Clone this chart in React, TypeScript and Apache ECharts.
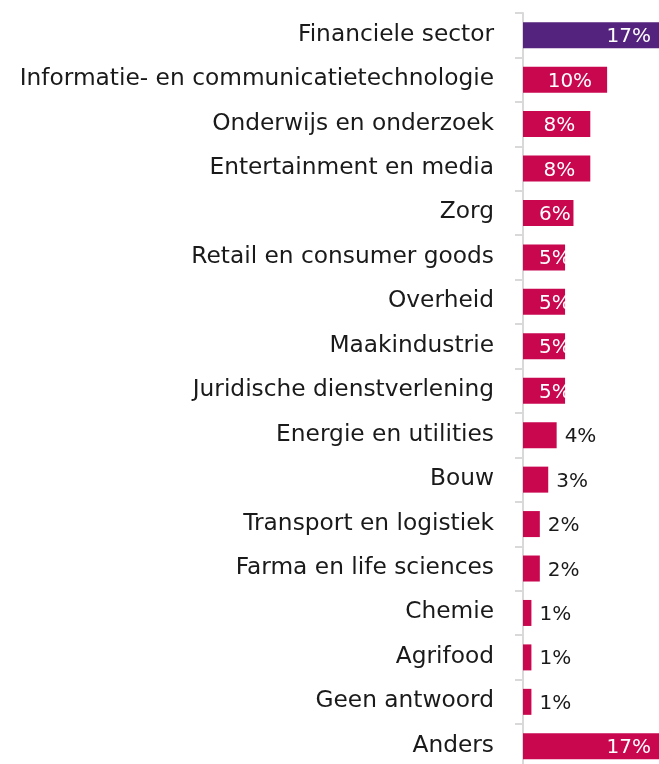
import React, { useEffect, useRef } from "react";
import * as echarts from "echarts";

const categories = [
  "Financiele sector",
  "Informatie- en communicatietechnologie",
  "Onderwijs en onderzoek",
  "Entertainment en media",
  "Zorg",
  "Retail en consumer goods",
  "Overheid",
  "Maakindustrie",
  "Juridische dienstverlening",
  "Energie en utilities",
  "Bouw",
  "Transport en logistiek",
  "Farma en life sciences",
  "Chemie",
  "Agrifood",
  "Geen antwoord",
  "Anders",
];

const values = [17, 10, 8, 8, 6, 5, 5, 5, 5, 4, 3, 2, 2, 1, 1, 1, 17];

const PURPLE = "#53237d";
const PINK = "#c8074f";
const FONT = "DejaVu Sans";

export default function App() {
  const ref = useRef<HTMLDivElement>(null);
  useEffect(() => {
    if (!ref.current) return;
    const chart = echarts.init(ref.current, null, { renderer: "svg" });
    const data = values.map((v, i) => {
      let label: any;
      if (v >= 8) {
        label = { show: true, position: "insideRight", distance: 15, color: "#fff" };
      } else if (v >= 5) {
        label = { show: true, position: "insideLeft", distance: 16, color: "#fff" };
      } else {
        label = { show: true, position: "right", distance: 8, color: "#1a1a1a" };
      }
      return {
        value: v,
        itemStyle: { color: i === 0 ? PURPLE : PINK },
        label,
      };
    });
    chart.setOption({
      animation: false,
      grid: { left: 523, top: 13, width: 143, height: 755.5, containLabel: false },
      xAxis: {
        type: "value",
        min: 0,
        max: 17,
        show: false,
      },
      yAxis: {
        type: "category",
        data: categories,
        inverse: true,
        axisLine: { show: true, lineStyle: { color: "#d9d9d9", width: 2 } },
        axisTick: { show: true, length: 8, lineStyle: { color: "#d9d9d9", width: 2 } },
        axisLabel: {
          margin: 29,
          color: "#1a1a1a",
          fontSize: 23.3,
          fontFamily: FONT,
          verticalAlign: "bottom",
          lineHeight: 6,
        },
      },
      series: [
        {
          type: "bar",
          data,
          barWidth: 26,
          label: {
            fontSize: 20,
            fontFamily: FONT,
            formatter: (p: any) => p.value + "%",
          },
        },
      ],
    });
    return () => chart.dispose();
  }, []);
  return (
    <div
      style={{ position: "fixed", left: 0, top: 0, width: 659, height: 764, overflow: "hidden" }}
    >
      <div ref={ref} style={{ width: 720, height: 800 }} />
    </div>
  );
}
